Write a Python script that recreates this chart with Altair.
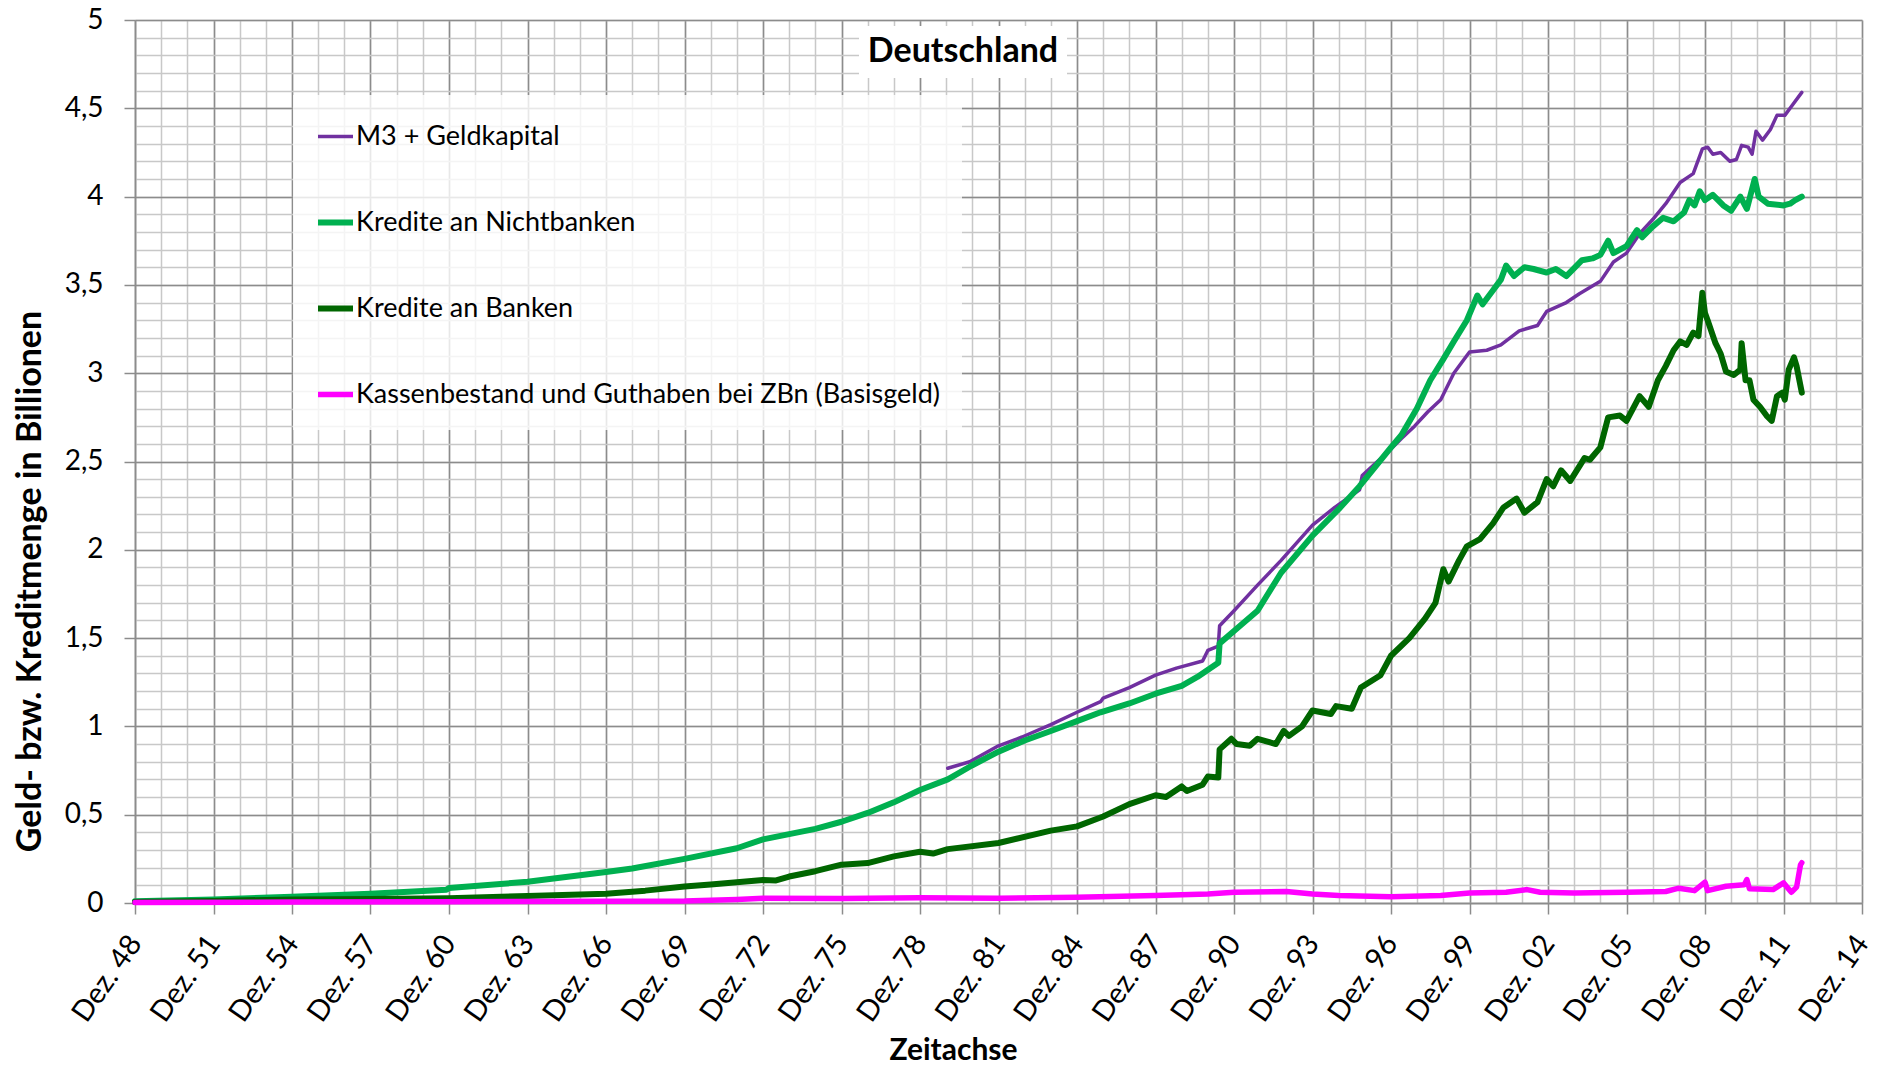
import altair as alt
import pandas as pd

# x = year position, where Dez. of a year sits at the integer (Dez. 48 = 1948)
series_names = [
    "M3 + Geldkapital",
    "Kredite an Nichtbanken",
    "Kredite an Banken",
    "Kassenbestand und Guthaben bei ZBn (Basisgeld)",
]
series_colors = ["#7030A0", "#00B050", "#006600", "#FF00FF"]
series_widths = [3.5, 6, 6, 5.5]

m3_t = [1979.06, 1979.9, 1981, 1981.9, 1983, 1984, 1984.9, 1985.0, 1986, 1987, 1987.8, 1988.8,
        1989.0, 1989.4, 1989.45, 1990, 1990.9, 1991.8, 1993, 1993.85, 1994.8, 1994.9, 1996,
        1996.4, 1996.9, 1997.4, 1997.9, 1998.4, 1998.9, 1999.0, 1999.66, 2000.2, 2000.9, 2001.6,
        2001.95, 2002.7, 2003.2, 2004.0, 2004.5, 2005.0, 2005.5, 2006.0, 2006.5, 2007.05,
        2007.55, 2007.9, 2008.1, 2008.3, 2008.6, 2008.95, 2009.2, 2009.4, 2009.65, 2009.8,
        2009.95, 2010.2, 2010.5, 2010.75, 2011.05, 2011.3, 2011.7]
m3_v = [0.763, 0.80, 0.89, 0.94, 1.01, 1.08, 1.14, 1.16, 1.22, 1.29, 1.33, 1.37,
        1.43, 1.455, 1.57, 1.655, 1.80, 1.94, 2.14, 2.24, 2.34, 2.42, 2.57,
        2.63, 2.70, 2.78, 2.85, 3.00, 3.10, 3.12, 3.13, 3.16, 3.24, 3.27,
        3.35, 3.40, 3.45, 3.52, 3.63, 3.68, 3.79, 3.87, 3.96, 4.08,
        4.13, 4.27, 4.28, 4.24, 4.25, 4.20, 4.21, 4.29, 4.28, 4.24,
        4.37, 4.32, 4.38, 4.46, 4.46, 4.51, 4.59]

nb_t = [1948.0, 1951, 1954, 1957, 1959.9, 1960.0, 1963, 1966, 1967, 1969, 1971, 1972, 1973,
        1974, 1975, 1976, 1977, 1978, 1979.06, 1980, 1981, 1982, 1983, 1984, 1984.9, 1986,
        1987, 1988, 1988.6, 1989.4, 1989.45, 1990, 1990.9, 1991.8, 1993, 1994, 1994.8, 1996,
        1996.4, 1996.99, 1997.5, 1998.0, 1998.4, 1998.9, 1999.3, 1999.5, 1999.9, 2000.2,
        2000.4, 2000.7, 2001.1, 2001.45, 2001.95, 2002.3, 2002.7, 2003.3, 2003.7, 2004.0,
        2004.3, 2004.5, 2005.0, 2005.4, 2005.6, 2006.0, 2006.4, 2006.8, 2007.2, 2007.4,
        2007.6, 2007.8, 2008.0, 2008.3, 2008.7, 2009.0, 2009.35, 2009.6, 2009.9, 2010.05,
        2010.4, 2011.0, 2011.25, 2011.45, 2011.7]
nb_v = [0.01, 0.02, 0.035, 0.052, 0.075, 0.085, 0.12, 0.175, 0.195, 0.25, 0.31, 0.36, 0.39,
        0.42, 0.46, 0.51, 0.57, 0.64, 0.70, 0.78, 0.857, 0.92, 0.974, 1.03, 1.08, 1.13,
        1.185, 1.23, 1.28, 1.36, 1.47, 1.54, 1.655, 1.87, 2.08, 2.23, 2.36, 2.58,
        2.65, 2.80, 2.96, 3.08, 3.18, 3.30, 3.44, 3.39, 3.47, 3.53,
        3.61, 3.55, 3.60, 3.59, 3.57, 3.59, 3.55, 3.64, 3.65, 3.67,
        3.75, 3.68, 3.72, 3.81, 3.77, 3.83, 3.88, 3.86, 3.91, 3.98,
        3.95, 4.03, 3.98, 4.01, 3.95, 3.92, 4.00, 3.93, 4.10, 4.00,
        3.96, 3.95, 3.96, 3.98, 4.00]

kb_t = [1948, 1951, 1954, 1957, 1960, 1963, 1966, 1967.5, 1969, 1970, 1971, 1972, 1972.5,
        1973, 1974, 1975, 1976, 1977, 1978, 1978.5, 1979.06, 1981, 1983, 1984, 1985, 1986,
        1987, 1987.4, 1988, 1988.2, 1988.8, 1989.0, 1989.4, 1989.45, 1989.9, 1990.1, 1990.6,
        1990.9, 1991.6, 1991.9, 1992.1, 1992.6, 1993.0, 1993.7, 1993.9, 1994.5, 1994.85,
        1995.6, 1996, 1996.7, 1997.3, 1997.7, 1998.0, 1998.2, 1998.6, 1998.9, 1999.4, 1999.9,
        2000.3, 2000.8, 2001.1, 2001.6, 2001.95, 2002.2, 2002.5, 2002.85, 2003.4, 2003.6,
        2004.0, 2004.3, 2004.75, 2005.0, 2005.5, 2005.85, 2006.2, 2006.5, 2006.8, 2007.05,
        2007.3, 2007.55, 2007.75, 2007.9, 2008.0, 2008.1, 2008.4, 2008.6, 2008.8, 2009.1,
        2009.35, 2009.4, 2009.55, 2009.7, 2009.85, 2010.1, 2010.35, 2010.55, 2010.75,
        2010.95, 2011.05, 2011.2, 2011.4, 2011.5, 2011.7]
kb_v = [0.005, 0.012, 0.02, 0.023, 0.027, 0.04, 0.053, 0.07, 0.094, 0.105, 0.117, 0.13, 0.128,
        0.15, 0.18, 0.217, 0.226, 0.264, 0.29, 0.28, 0.305, 0.34, 0.41, 0.434, 0.49, 0.56,
        0.61, 0.60, 0.66, 0.634, 0.67, 0.716, 0.711, 0.87, 0.93, 0.90, 0.89,
        0.93, 0.90, 0.975, 0.946, 1.0, 1.09, 1.07, 1.115, 1.10, 1.22,
        1.29, 1.40, 1.50, 1.61, 1.70, 1.89, 1.82, 1.94, 2.02, 2.06, 2.15,
        2.24, 2.29, 2.21, 2.27, 2.40, 2.36, 2.45, 2.39, 2.52, 2.51,
        2.58, 2.75, 2.76, 2.73, 2.87, 2.81, 2.96, 3.04, 3.13, 3.18,
        3.16, 3.23, 3.21, 3.455, 3.34, 3.30, 3.17, 3.11, 3.01, 2.99,
        3.02, 3.17, 2.96, 2.96, 2.85, 2.81, 2.76, 2.73, 2.87,
        2.89, 2.85, 3.02, 3.09, 3.04, 2.89]

bg_t = [1948, 1954, 1960, 1966, 1969, 1971, 1972, 1975, 1978, 1981, 1984, 1987, 1989, 1990,
        1992, 1993, 1994, 1996, 1997.9, 1999, 2000.4, 2001.2, 2001.7, 2003, 2005, 2006.5,
        2007, 2007.6, 2008, 2008.1, 2008.8, 2009.5, 2009.6, 2009.7, 2010.6, 2011, 2011.3,
        2011.5, 2011.65, 2011.7]
bg_v = [0.003, 0.005, 0.007, 0.01, 0.012, 0.02, 0.027, 0.025, 0.03, 0.027, 0.032, 0.042, 0.051, 0.061,
        0.065, 0.051, 0.042, 0.036, 0.042, 0.057, 0.061, 0.076, 0.061, 0.057, 0.061, 0.065,
        0.084, 0.07, 0.118, 0.07, 0.095, 0.103, 0.133, 0.08, 0.076, 0.114, 0.061,
        0.09, 0.217, 0.228]

major_x = list(range(1948, 2015, 3))
minor_x = list(range(1948, 2015))
major_y = [i / 2 for i in range(11)]
minor_y = [i / 10 for i in range(51)]

rows = []
for name, ts, vs in zip(series_names, [m3_t, nb_t, kb_t, bg_t], [m3_v, nb_v, kb_v, bg_v]):
    for t, v in zip(ts, vs):
        rows.append({"series": name, "t": t, "v": v})
df = pd.DataFrame(rows)

FONT = "Lato"
MAJOR = "#8c8c8c"
MINOR = "#c8c8c8"

x_scale = alt.Scale(domain=[1948, 2014], nice=False, zero=False)
y_scale = alt.Scale(domain=[0, 5], nice=False, zero=True)

legend = alt.Legend(
    title=None, orient="none", legendX=158, legendY=75, direction="vertical",
    fillColor="rgba(255,255,255,0.8)", padding=22, rowPadding=52,
    symbolType="stroke", symbolSize=1225, symbolStrokeWidth=4,
    labelFont=FONT, labelFontSize=27, labelColor="black", labelOffset=0, labelLimit=900,
)
color_enc = alt.Color("series:N", scale=alt.Scale(domain=series_names, range=series_colors), legend=legend)
width_enc = alt.StrokeWidth("series:N", scale=alt.Scale(type="ordinal", domain=series_names, range=series_widths),
                            legend=legend)

# minor grid layer (invisible line, carries the fine grid)
grid_layer = alt.Chart(df).mark_line(strokeOpacity=0).encode(
    x=alt.X("t:Q", scale=x_scale, axis=alt.Axis(
        values=minor_x, orient="bottom", grid=True, gridColor=MINOR, gridWidth=1.5,
        labels=False, ticks=False, domain=False, title=None)),
    y=alt.Y("v:Q", scale=y_scale, axis=alt.Axis(
        values=minor_y, orient="left", grid=True, gridColor=MINOR, gridWidth=1.5,
        labels=False, ticks=False, domain=False, title=None)),
    detail="series:N",
)

x_major_axis = alt.Axis(
    values=major_x, orient="bottom", grid=True, gridColor=MAJOR, gridWidth=1.5,
    domainColor=MAJOR, domainWidth=1.5, tickColor=MAJOR, tickWidth=1.5, tickSize=11,
    labelExpr="'Dez. ' + format(datum.value % 100, '02d')",
    labelAngle=-55, labelAlign="right", labelBaseline="middle", labelPadding=24,
    labelFont=FONT, labelFontSize=29, labelColor="black", labelOverlap=False, labelFlush=False,
    title="Zeitachse", titleFont=FONT, titleFontSize=30, titleFontWeight="bold", titleColor="black",
    titleX=818, titleY=156, titleAlign="center", titleBaseline="alphabetic",
)
y_major_axis = alt.Axis(
    values=major_y, orient="left", grid=True, gridColor=MAJOR, gridWidth=1.5,
    domainColor=MAJOR, domainWidth=1.5, tickColor=MAJOR, tickWidth=1.5, tickSize=11,
    labelExpr="replace(format(datum.value, '.1~f'), '.', ',')",
    labelPadding=21, labelFont=FONT, labelFontSize=28, labelColor="black",
    title="Geld- bzw. Kreditmenge in Billionen", titleFont=FONT, titleFontSize=34,
    titleFontWeight="bold", titleColor="black", titleAngle=-90,
    titleX=-105, titleY=561, titleAlign="center", titleBaseline="middle",
)

layers = [grid_layer]
for i, name in enumerate(series_names):
    xa = x_major_axis if i == 0 else None
    ya = y_major_axis if i == 0 else None
    layers.append(
        alt.Chart(df).transform_filter(alt.datum.series == name).mark_line(strokeJoin="round", strokeCap="round").encode(
            x=alt.X("t:Q", scale=x_scale, axis=xa),
            y=alt.Y("v:Q", scale=y_scale, axis=ya),
            color=color_enc,
            strokeWidth=width_enc,
        )
    )

title_df = pd.DataFrame({"label": ["Deutschland"]})
title_box = alt.Chart(title_df).mark_rect(color="white").encode(
    x=alt.value(724), x2=alt.value(932), y=alt.value(6), y2=alt.value(58)
)
title_text = alt.Chart(title_df).mark_text(
    font=FONT, fontSize=34, fontWeight="bold", color="black", align="center", baseline="middle"
).encode(x=alt.value(828), y=alt.value(32), text="label:N")
layers += [title_box, title_text]

chart = alt.layer(*layers).resolve_axis(x="independent", y="independent").properties(
    width=1727, height=883,
    autosize=alt.AutoSizeParams(type="none"),
    padding={"left": 127, "top": 12, "right": 14, "bottom": 160},
    background="white",
).configure_view(stroke=None)

chart.save("out.html", embed_options={"renderer": "svg", "actions": False})
